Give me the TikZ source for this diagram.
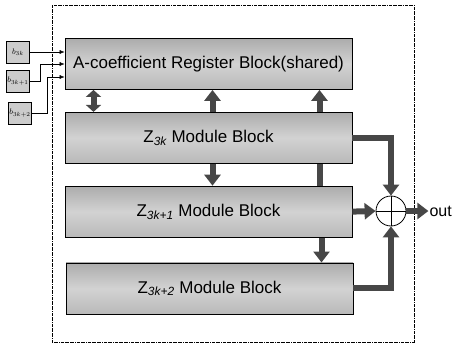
\documentclass[tikz,border=0pt]{standalone}
\usepackage{fontspec}
\setsansfont{Liberation Sans}
\usetikzlibrary{arrows.meta,positioning,backgrounds}

\tikzset{fat/.tip={Triangle[width=16pt,length=11pt]},
  fatshort/.tip={Triangle[width=15pt,length=7pt]}}

\begin{document}
\begin{tikzpicture}[x=1pt, y=-1pt, node distance=22pt and 20pt,
  modblock/.style={rectangle, draw=black, thick, minimum width=287pt, minimum height=51pt, top color=gray!65, bottom color=gray!55, middle color=gray!35, font=\sffamily\fontsize{17}{20}\selectfont},
  inbox/.style={rectangle, draw=black, fill=gray!40, minimum width=23pt, minimum height=22pt, inner sep=0pt, font=\fontsize{8}{9}\selectfont},
  inline/.style={draw, thin, -{Latex[length=5pt,width=4pt]}},
  bus/.style={draw=black!72, line width=6pt, -fat},
  adder/.style={circle, draw=black, thick, fill=white, minimum size=30pt, inner sep=0pt}]

  \useasboundingbox (0,0) rectangle (453,348);

  % Outer frame
  \draw [densely dashdotted, thin] (52,5) rectangle (414,342);

  % Register block and module blocks
  \node [modblock] (reg) at (208.5,64) {A-coefficient Register Block(shared)};
  \node [modblock, below=of reg] (zk) {Z\textsubscript{\itshape 3k} Module Block};
  \node [modblock, below=of zk] (zkone) {Z\textsubscript{\itshape 3k+1} Module Block};
  \node [modblock, below=25pt of zkone, xshift=1pt] (zktwo) {Z\textsubscript{\itshape 3k+2} Module Block};

  % Inputs
  \node [inbox] (bzero) at (18,52) {$b_{3k}$};
  \node [inbox] (bone) at (18,81) {$b_{3k+1}$};
  \node [inbox] (btwo) at (20,113) {$b_{3k+2}$};

  \path [inline] (bzero.east) -- (bzero.east -| reg.west);
  \path [inline] (bone.east) -- ++(10pt,0) |- (reg.west);
  \path [inline] (btwo.east) -- ++(15pt,0) |- ([yshift=-13pt]reg.west);

  % Buses between blocks
  \path [bus, fatshort-fatshort] ([xshift=-115pt]reg.south) -- ([xshift=-115pt]zk.north);
  \path [bus] ([xshift=4pt]zk.north) -- ([xshift=4pt]reg.south);
  \begin{scope}[on background layer]
    \path [bus] ([xshift=111pt]zkone.north) -- ([xshift=111pt]reg.south);
  \end{scope}
  \path [bus] ([xshift=4pt]zk.south) -- ([xshift=4pt]zkone.north);
  \path [bus] ([xshift=113pt]zkone.south) -- ([xshift=113pt]zkone.south |- zktwo.north);

  % Adder and output
  \node [adder] (sum) at (391,211) {};
  \draw (sum.north) -- (sum.south) (sum.west) -- (sum.east);
  \node [right=22pt of sum, font=\sffamily\fontsize{16}{18}\selectfont, inner sep=1pt] (out) {out};

  \path [bus] (zk.east) -| (sum.north);
  \path [bus] (zkone.east) -- (sum.west);
  \path [bus] (zktwo.east) -| (sum.south);
  \path [bus] (sum.east) -- (out.west);
\end{tikzpicture}
\end{document}
